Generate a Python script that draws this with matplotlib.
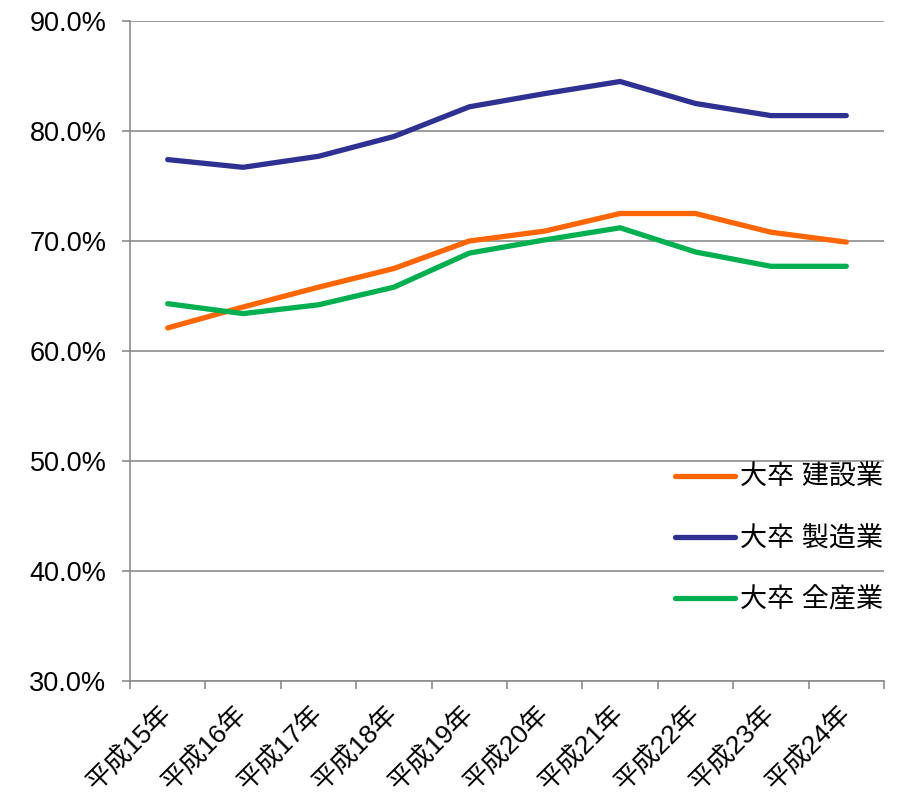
import matplotlib
matplotlib.use('Agg')
import matplotlib.pyplot as plt
import matplotlib.transforms as mtransforms
import numpy as np

plt.rcParams['font.family'] = ['Liberation Sans', 'Noto Sans CJK JP', 'DejaVu Sans']

## Fiscal years (Heisei era)
years = ['平成15年', '平成16年', '平成17年', '平成18年', '平成19年',
         '平成20年', '平成21年', '平成22年', '平成23年', '平成24年']

## Rates in percent
construction = [62.1, 64.0, 65.8, 67.5, 70.0, 70.9, 72.5, 72.5, 70.8, 69.9]
manufacturing = [77.4, 76.7, 77.7, 79.5, 82.2, 83.4, 84.5, 82.5, 81.4, 81.4]
all_industries = [64.3, 63.4, 64.2, 65.8, 68.9, 70.1, 71.2, 69.0, 67.7, 67.7]

series = [
    ('大卒 建設業', construction, '#FF6600'),
    ('大卒 製造業', manufacturing, '#2E3192'),
    ('大卒 全産業', all_industries, '#00B050'),
]

fig = plt.figure(figsize=(9.08, 7.97), dpi=100)
ax = fig.add_axes([130/908, 116/797, 754/908, 660/797])

x = np.arange(len(years))
for label, vals, color in series:
    ax.plot(x, vals, color=color, lw=3.8, label=label, solid_capstyle='round',
            solid_joinstyle='round')

## Axes styling
ax.set_xlim(-0.5, len(years) - 0.5)
ax.set_ylim(30, 90)
ax.set_yticks(np.arange(30, 91, 10))
ax.set_yticklabels(['%.1f%%' % v for v in np.arange(30, 91, 10)], fontsize=19.5)
ax.yaxis.grid(True, color='#8c8c8c', lw=1.2)
ax.set_axisbelow(True)

ax.set_xticks(x)
ax.set_xticklabels(years, fontsize=19, rotation=45, ha='right', va='top',
                   rotation_mode='anchor')
ax.set_xticks(np.arange(-0.5, len(years)), minor=True)
ax.tick_params(axis='x', which='major', length=0, pad=14)
ax.tick_params(axis='x', which='minor', length=6, color='#8c8c8c', width=1.2)
ax.tick_params(axis='y', length=6, color='#8c8c8c', width=1.2, pad=11)

# nudge the slanted year labels a little to the left
shift = mtransforms.ScaledTranslation(-9/100, 0, fig.dpi_scale_trans)
for lbl in ax.get_xticklabels():
    lbl.set_transform(lbl.get_transform() + shift)

for side in ['top', 'right']:
    ax.spines[side].set_visible(False)
for side in ['left', 'bottom']:
    ax.spines[side].set_color('#8c8c8c')
    ax.spines[side].set_linewidth(1.2)

ax.legend(loc='upper left', bbox_to_anchor=(675/908, 1 - 465/797),
          bbox_transform=fig.transFigure, frameon=False, borderpad=0,
          borderaxespad=0, fontsize=19.5, handlelength=2.2, handletextpad=0.2,
          labelspacing=1.3)

fig.savefig('out.png', dpi=100)
